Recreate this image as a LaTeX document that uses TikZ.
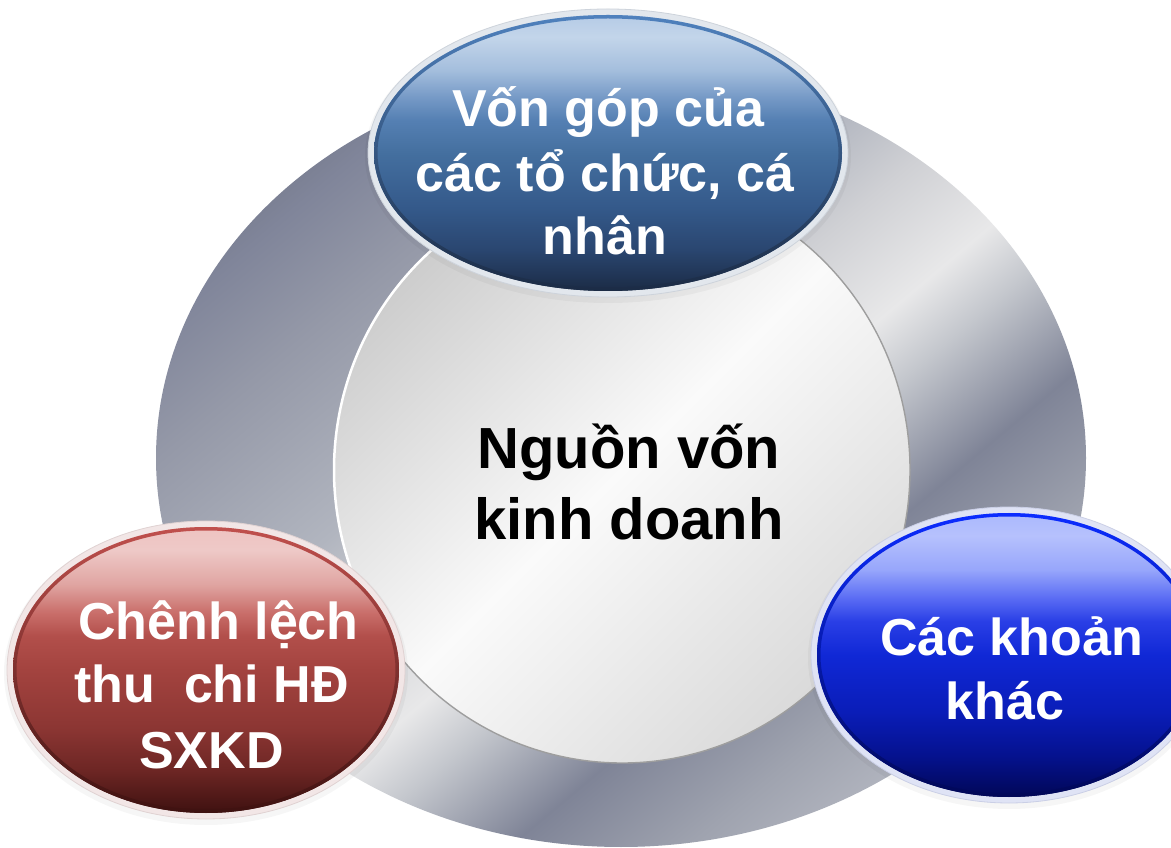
\documentclass[tikz,border=0pt]{standalone}
\usepackage{fontspec}
\setmainfont{Liberation Sans}
\usetikzlibrary{calc}
% ring colours
\definecolor{r0}{HTML}{7A7F92}\definecolor{r1}{HTML}{80859A}\definecolor{r2}{HTML}{9599A8}
\definecolor{r3}{HTML}{B1B5BF}\definecolor{r4}{HTML}{CFD0D4}\definecolor{r5}{HTML}{E8E8E9}
\definecolor{r6}{HTML}{C4C7CD}\definecolor{r7}{HTML}{7F8497}\definecolor{r8}{HTML}{9FA3AF}
\definecolor{r9}{HTML}{B3B6C0}
\pgfdeclarehorizontalshading{ringshade}{100bp}{color(0bp)=(r0); color(25bp)=(r0); color(26.7bp)=(r1); color(32.8bp)=(r2); color(42.6bp)=(r3); color(47.7bp)=(r4); color(53.5bp)=(r5); color(57bp)=(r6); color(63.1bp)=(r7); color(69.8bp)=(r8); color(75bp)=(r9); color(100bp)=(r9)}
% inner circle
\definecolor{in1}{HTML}{CDCDCD}\definecolor{in2}{HTML}{FAFAFA}\definecolor{in3}{HTML}{DADADA}
% top (steel blue)
\definecolor{t0}{HTML}{B5CBE6}\definecolor{t1}{HTML}{C3D5EA}\definecolor{t2}{HTML}{A4BEDD}
\definecolor{t3}{HTML}{7599C6}\definecolor{t4}{HTML}{5580B3}\definecolor{t5}{HTML}{446F9F}
\definecolor{t6}{HTML}{34598A}\definecolor{t7}{HTML}{2A4670}\definecolor{t8}{HTML}{1B2B45}
\definecolor{tedge}{HTML}{4F81BD}\definecolor{thalo}{HTML}{E2E7ED}\definecolor{thalod}{HTML}{CDD3DB}
\pgfdeclareverticalshading{topshade}{100bp}{color(0bp)=(t8); color(25bp)=(t8); color(32.5bp)=(t7); color(40bp)=(t6); color(50bp)=(t5); color(56bp)=(t4); color(60bp)=(t3); color(65bp)=(t2); color(71bp)=(t1); color(75bp)=(t0); color(100bp)=(t0)}
% left (red)
\definecolor{a0}{HTML}{EEC3C1}\definecolor{a1}{HTML}{EEC9C7}\definecolor{a2}{HTML}{E0A5A2}
\definecolor{a3}{HTML}{C96E6A}\definecolor{a4}{HTML}{B24F4B}\definecolor{a5}{HTML}{A3433F}
\definecolor{a6}{HTML}{8C3633}\definecolor{a7}{HTML}{6D2624}\definecolor{a8}{HTML}{3E1110}
\definecolor{aedge}{HTML}{C0504D}\definecolor{ahalo}{HTML}{F2E6E6}\definecolor{ahalod}{HTML}{E0D2D2}
\pgfdeclareverticalshading{redshade}{100bp}{color(0bp)=(a8); color(25bp)=(a8); color(32.5bp)=(a7); color(40bp)=(a6); color(50bp)=(a5); color(56bp)=(a4); color(60bp)=(a3); color(65bp)=(a2); color(71bp)=(a1); color(75bp)=(a0); color(100bp)=(a0)}
% right (blue)
\definecolor{b0}{HTML}{AAB8FD}\definecolor{b1}{HTML}{B6C1FD}\definecolor{b2}{HTML}{97A6FB}
\definecolor{b3}{HTML}{5A6CF4}\definecolor{b4}{HTML}{2A3FE6}\definecolor{b5}{HTML}{1028D6}
\definecolor{b6}{HTML}{0A1DB8}\definecolor{b7}{HTML}{051290}\definecolor{b8}{HTML}{010757}
\definecolor{bedge}{HTML}{0B2CFF}\definecolor{bhalo}{HTML}{DFE3F5}\definecolor{bhalod}{HTML}{CACFE6}
\pgfdeclareverticalshading{blueshade}{100bp}{color(0bp)=(b8); color(25bp)=(b8); color(32.5bp)=(b7); color(40bp)=(b6); color(50bp)=(b5); color(56bp)=(b4); color(60bp)=(b3); color(65bp)=(b2); color(71bp)=(b1); color(75bp)=(b0); color(100bp)=(b0)}
\begin{document}
\begin{tikzpicture}[x=1pt,y=1pt,
  lbl/.style={text=white, font=\fontsize{52}{62}\selectfont\bfseries, anchor=base, inner sep=0pt},
  ctr/.style={text=black, font=\fontsize{58}{70}\selectfont\bfseries, anchor=base, inner sep=0pt},
  halo/.style={line width=0.8pt},
  softshadow/.style={fill=black, opacity=0.035}]
\useasboundingbox (0,0) rectangle (1171,847);
\fill[white] (0,0) rectangle (1171,847);
% ---- ring ----
\coordinate (cring) at (621,389);
\begin{scope}
  \clip (cring) ellipse [x radius=465pt, y radius=389pt];
  \begin{scope}[transform canvas={rotate around={-50:(cring)}}]
    \shade[shading=ringshade] (191,-211) rectangle (1051,989);
  \end{scope}
\end{scope}
% ---- inner circle ----
\coordinate (cin) at (622,377);
\shade[left color=in1, right color=in3, middle color=in2, shading angle=45]
  (cin) ellipse [x radius=288pt, y radius=293pt];
\draw[white, line width=2.5pt] (cin) ++(80:288pt and 293pt) arc[start angle=80, end angle=220, x radius=288pt, y radius=293pt];
\draw[black!38, line width=1.4pt] (cin) ++(220:288pt and 293pt) arc[start angle=220, end angle=440, x radius=288pt, y radius=293pt];
% ---- top ellipse ----
\coordinate (ctop) at (608,694);
\fill[softshadow] ($(ctop)+(0,-3)$) ellipse [x radius=243pt, y radius=147pt];
\filldraw[halo, fill=thalo, draw=thalod] (ctop) ellipse [x radius=240pt, y radius=144pt];
\shade[shading=topshade] (ctop) ellipse [x radius=234pt, y radius=138pt];
\shade[even odd rule, top color=tedge, bottom color=t8] (ctop) ellipse [x radius=234pt, y radius=138pt] (ctop) ellipse [x radius=230.5pt, y radius=134.5pt];
% ---- left ellipse ----
\coordinate (cleft) at (206,177);
\fill[softshadow] ($(cleft)+(0,-3)$) ellipse [x radius=202pt, y radius=152pt];
\filldraw[halo, fill=ahalo, draw=ahalod] (cleft) ellipse [x radius=199pt, y radius=149pt];
\shade[shading=redshade] (cleft) ellipse [x radius=193pt, y radius=143pt];
\shade[even odd rule, top color=aedge, bottom color=a8] (cleft) ellipse [x radius=193pt, y radius=143pt] (cleft) ellipse [x radius=189.5pt, y radius=139.5pt];
% ---- right ellipse ----
\coordinate (cright) at (1009,192);
\fill[softshadow] ($(cright)+(0,-3)$) ellipse [x radius=201pt, y radius=151pt];
\filldraw[halo, fill=bhalo, draw=bhalod] (cright) ellipse [x radius=198pt, y radius=148pt];
\shade[shading=blueshade] (cright) ellipse [x radius=192pt, y radius=142pt];
\shade[even odd rule, top color=bedge, bottom color=b8] (cright) ellipse [x radius=192pt, y radius=142pt] (cright) ellipse [x radius=188.5pt, y radius=138.5pt];
% ---- texts ----
\node[lbl] (t1) at (608,720) {Vốn góp của};
\node[lbl] (t2) at (605,655) {các tổ chức, cá};
\node[lbl] (t3) at (605,592) {nhân};
\node[ctr] (c1) at (629,378) {Nguồn vốn};
\node[ctr] (c2) at (629,307) {kinh doanh};
\node[lbl] (l1) at (218.5,207) {Chênh lệch};
\node[lbl] (l2) at (211.5,144) {thu\ \ chi HĐ};
\node[lbl] (l3) at (211.5,79) {SXKD};
\node[lbl] (r1) at (1011.5,191) {Các khoản};
\node[lbl] (r2) at (1005,128) {khác};
\end{tikzpicture}
\end{document}
